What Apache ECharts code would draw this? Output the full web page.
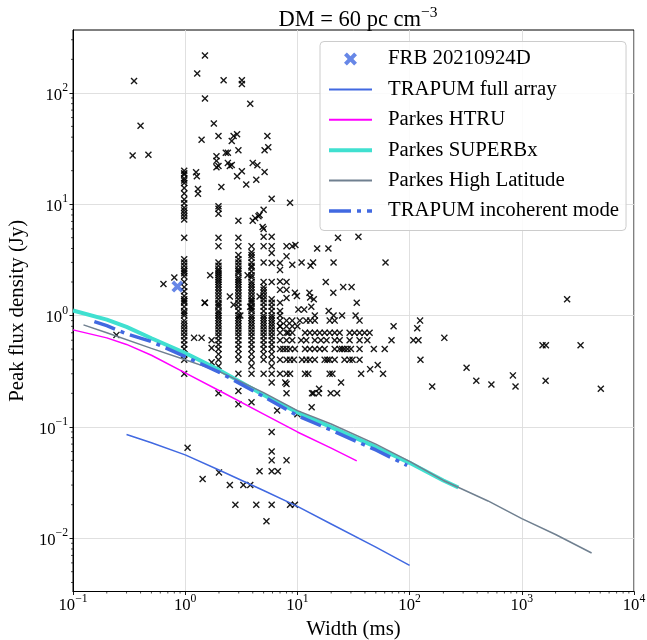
<!DOCTYPE html>
<html><head><meta charset="utf-8">
<script src="https://cdn.jsdelivr.net/npm/echarts@6/dist/echarts.min.js"></script>
<style>html,body{margin:0;padding:0;background:#fff}#c{width:647px;height:640px}</style>
</head><body><div id="c"></div>
<script>
// ---------------- data ----------------
const frbWidth = [0.853];
const frbFlux = [1.82];

const trapumFullW = [0.3, 0.5, 1, 2, 5, 10, 20, 50, 100];
const trapumFullS = [0.0855, 0.072, 0.056, 0.041, 0.0268, 0.0193, 0.0134, 0.0083, 0.0057];

const htruW = [0.1, 0.2, 0.3, 0.5, 1, 2, 5, 10, 20, 33.8];
const htruS = [0.743, 0.63, 0.55, 0.44, 0.305, 0.212, 0.13, 0.09, 0.0645, 0.0495];

const superbW = [0.1, 0.2, 0.3, 0.5, 1, 2, 5, 10, 20, 50, 100, 200, 272];
const superbS = [1.11, 0.92, 0.79, 0.625, 0.46, 0.325, 0.193, 0.135, 0.0995, 0.066, 0.0475, 0.033, 0.0285];

const highLatW = [0.124, 0.2, 0.5, 1, 2, 5, 10, 20, 50, 100, 200, 500, 1000, 2000, 4190];
const highLatS = [0.824, 0.70, 0.507, 0.40, 0.315, 0.203, 0.14, 0.106, 0.070, 0.049, 0.033, 0.0216, 0.015, 0.0108, 0.00736];

const incohW = [0.155, 0.2, 0.3, 0.5, 1, 2, 5, 10, 20, 50, 95];
const incohS = [0.883, 0.81, 0.684, 0.583, 0.428, 0.31, 0.187, 0.126, 0.0935, 0.062, 0.045];

// population: columns of bursts sharing one width
const colWidths = [0.98, 1.98, 2.98, 3.9, 5.0, 5.9, 7.0, 8.0];
const colFluxes = [
  [20, 19, 18.5, 17, 16.3, 15.5, 14, 12.5, 11, 10.2, 9.3, 8.8, 8.3, 7.8, 7.3, 5.0, 3.2, 3.0, 2.8, 2.6, 2.5, 2.4, 2.25, 2.0, 1.8, 1.65, 1.5, 1.4, 1.35, 1.3, 1.2, 1.1, 1.05, 1.0, 0.9, 0.85, 0.8, 0.75, 0.7, 0.65, 0.6, 0.55, 0.5, 0.45, 0.4, 0.3],
  [41, 22, 9.6, 9.1, 8.2, 5.0, 4.2, 3.0, 2.8, 2.6, 2.5, 2.4, 2.3, 2.2, 2.1, 2.0, 1.9, 1.8, 1.7, 1.6, 1.5, 1.4, 1.3, 1.25, 1.2, 1.1, 1.05, 1.0, 0.95, 0.9, 0.85, 0.8, 0.75, 0.7, 0.65, 0.6, 0.55, 0.5, 0.45, 0.4, 0.35, 0.2],
  [30.5, 7.1, 5.0, 4.2, 3.5, 3.2, 3.0, 2.8, 2.6, 2.5, 2.4, 2.2, 2.1, 2.0, 1.9, 1.8, 1.7, 1.6, 1.5, 1.4, 1.3, 1.2, 1.1, 1.0, 0.95, 0.9, 0.85, 0.8, 0.75, 0.7, 0.65, 0.6, 0.55, 0.5, 0.45, 0.4, 0.3, 0.21, 0.16],
  [4.2, 3.7, 3.5, 3.3, 3.0, 2.8, 2.7, 2.5, 2.3, 2.2, 2.0, 1.9, 1.8, 1.7, 1.6, 1.5, 1.4, 1.35, 1.3, 1.2, 1.15, 1.1, 1.0, 0.95, 0.9, 0.85, 0.8, 0.75, 0.7, 0.65, 0.6, 0.55, 0.5, 0.45, 0.4, 0.35, 0.3, 0.166],
  [8.9, 6.0, 5.1, 4.2, 3.0, 2.0, 1.8, 1.7, 1.6, 1.5, 1.4, 1.3, 1.2, 1.1, 1.0, 0.95, 0.9, 0.85, 0.8, 0.75, 0.7, 0.65, 0.6, 0.55, 0.5, 0.45, 0.4, 0.3],
  [11.2, 5.1, 4.2, 3.65, 2.96, 2.0, 1.4, 1.3, 1.2, 1.1, 1.0, 0.95, 0.9, 0.85, 0.8, 0.75, 0.7, 0.65, 0.6, 0.55, 0.5, 0.45, 0.4, 0.35, 0.3, 0.25, 0.09, 0.06, 0.05, 0.04, 0.02],
  [2.96, 2.57, 2.02, 1.7, 1.3, 1.1, 1.0, 0.9, 0.8, 0.7, 0.6, 0.5, 0.4, 0.3],
  [4.2, 3.4, 2.0, 1.7, 1.44, 0.9, 0.8, 0.7, 0.6, 0.5, 0.4, 0.3, 0.243, 0.2, 0.05]
];
// population: rows of bursts sharing one flux
const rowFluxes = [0.9, 0.7, 0.6, 0.5, 0.4, 0.3, 0.25, 0.2];
const rowWidths = [
  [9.0, 10.5, 12.0, 13.0, 14.3, 19.4, 21.5, 35.8],
  [8.3, 9.0, 11.7, 12.9, 14.3, 15.8, 17.5, 19.4, 21.5, 23.8, 29.2, 32.3, 35.8, 39.7, 44],
  [9.0, 10.8, 12.0, 14.3, 16.2, 18.2, 21.5, 23.8, 29.2, 35.8, 42, 69, 108, 120],
  [7.5, 8.6, 9.5, 11.7, 12.9, 14.3, 15.8, 17.5, 21.5, 23.8, 25.0, 26.3, 28, 30, 35.8, 48, 60],
  [8.6, 9.3, 11.0, 12.0, 12.9, 14.3, 17.5, 18.5, 19.4, 21.5, 26.3, 29.2, 31, 35.8, 125],
  [8.6, 11.7, 12.5, 19.4, 20.5, 37, 58],
  [7.8, 24.5],
  [13.5, 15.5, 19.8, 22.6]
];
// population: remaining bursts
const otherW = [0.35, 0.4, 0.34, 0.47, 1.5, 1.28, 2.2, 3.2, 3.2, 1.5, 3.8, 1.8, 1.4, 2.7, 2.9, 2.6, 2.3, 2.4, 1.9, 1.9, 1.9, 2.4, 2.5, 2.6,
  5.4, 5.5, 5.1, 4.0, 4.4, 5.1, 3.2, 2.9, 4.3, 3.5, 2.1, 1.25, 1.27, 1.3, 1.3, 8.6, 4.5, 4.0, 4.6, 4.2, 4.9,
  0.64, 0.8, 0.244, 1.5, 1.67, 2.5, 2.7, 3.1, 3.6, 4.6, 3.8, 1.2, 1.4, 1.72, 1.72, 1.72, 1.49,
  9.0, 9.6, 9.0, 15, 18.9, 23, 35, 10.9, 13.1, 13.8, 21, 61, 17.9, 20.9, 25.6, 30.4, 33.8, 12.8, 14, 9.9, 9.5, 13,
  10.2, 11.5, 13.3, 14.3, 19, 21, 25, 33, 7, 9, 10,
  2535, 72, 117, 124, 204, 322, 393, 536, 833, 879, 159, 1530, 1640, 3340, 1630, 5060, 44.5, 52,
  6.6, 10, 13.4, 13.9, 15.6, 4.6, 6.7, 1.05, 1.43, 2.0, 2.5, 3.3, 3.8, 2.8, 4.3, 8.6, 9.5, 5.3];
const otherS = [128, 50.6, 27.4, 27.8, 217, 149, 130, 130, 120, 89, 80, 53, 38, 41, 42.5, 37, 29, 29, 27, 24.5, 21.5, 23.5, 22, 22.5,
  41, 32.5, 30.5, 23.5, 22.4, 19.5, 19.8, 17.8, 16.6, 15, 14.3, 19.4, 17.8, 13.7, 12.4, 10.3, 7.8, 7.1, 8.0, 7.5, 6.25,
  1.92, 2.2, 0.67, 1.3, 2.3, 1.48, 1.25, 1.0, 2.3, 1.48, 1.2, 0.63, 0.63, 0.6, 0.51, 0.38, 1.3,
  4.2, 4.3, 2.86, 4.0, 4.0, 5.0, 5.1, 3.0, 2.8, 3.0, 3.0, 3.0, 2.0, 1.6, 1.8, 1.8, 1.3, 1.6, 1.4, 1.5, 1.6, 1.45,
  1.13, 1.13, 1.2, 1.0, 1.1, 1.0, 1.0, 1.0, 0.8, 0.8, 0.8,
  1.4, 0.80, 0.77, 0.9, 0.63, 0.34, 0.26, 0.24, 0.29, 0.23, 0.23, 0.54, 0.54, 0.54, 0.26, 0.22, 0.33, 0.36,
  0.14, 0.13, 0.15, 0.2, 0.22, 0.04, 0.04, 0.065, 0.034, 0.039, 0.03, 0.03, 0.03, 0.02, 0.02, 0.02, 0.02, 0.0142];

// axis ticks
const xMin = 0.1, xMax = 10000;
const yMin = 0.00332, yMax = 367;
const xMajorTicks = [0.1, 1, 10, 100, 1000, 10000];
const yMajorTicks = [0.01, 0.1, 1, 10, 100];
const xMinorTicks = [0.2,0.3,0.4,0.5,0.6,0.7,0.8,0.9, 2,3,4,5,6,7,8,9, 20,30,40,50,60,70,80,90, 200,300,400,500,600,700,800,900, 2000,3000,4000,5000,6000,7000,8000,9000];
const yMinorTicks = [0.004,0.005,0.006,0.007,0.008,0.009, 0.02,0.03,0.04,0.05,0.06,0.07,0.08,0.09, 0.2,0.3,0.4,0.5,0.6,0.7,0.8,0.9, 2,3,4,5,6,7,8,9, 20,30,40,50,60,70,80,90, 200,300];

// ---------------- build ----------------
const FONT = "'Liberation Serif','Times New Roman','DejaVu Serif',serif";
function xPath(d) {
  return 'path://M0 ' + d + ' L' + d + ' 0 L50 ' + (50 - d) + ' L' + (100 - d) + ' 0 L100 ' + d + ' L' + (50 + d) + ' 50 L100 ' + (100 - d) +
    ' L' + (100 - d) + ' 100 L50 ' + (50 + d) + ' L' + d + ' 100 L0 ' + (100 - d) + ' L' + (50 - d) + ' 50 Z';
}
const thinX = xPath(14), boldX = xPath(22);

const pop = [];
colWidths.forEach((w, i) => colFluxes[i].forEach(s => pop.push([w, s])));
rowFluxes.forEach((s, i) => rowWidths[i].forEach(w => pop.push([w, s])));
otherW.forEach((w, i) => pop.push([w, otherS[i]]));

const zip = (a, b) => a.map((v, i) => [v, b[i]]);

function powLabel(v) {
  const e = Math.log10(v), r = Math.round(e);
  if (Math.abs(e - r) > 1e-6) return '';
  return '{b|10}{e|' + (r < 0 ? '\u2212' + (-r) : r) + '}';
}
const labelRich = {
  b: { fontFamily: FONT, fontSize: 16.7, color: '#000', lineHeight: 22, verticalAlign: 'bottom' },
  e: { fontFamily: FONT, fontSize: 11.7, color: '#000', lineHeight: 12, verticalAlign: 'top' }
};

function lineSeries(name, w, s, color, width, type, z) {
  return { type: 'line', name, data: zip(w, s), symbol: 'none', showSymbol: false, smooth: false, z,
    lineStyle: { color, width, type: type || 'solid', cap: 'butt' }, itemStyle: { color }, emphasis: { disabled: true } };
}
const DASHDOT = [22, 6, 4, 6];

const chart = echarts.init(document.getElementById('c'), null, { renderer: 'canvas' });
chart.setOption({
  animation: false,
  backgroundColor: '#fff',
  title: {
    text: '{a|DM = 60 pc cm}{s|\u22123}', left: 353, top: 0, textAlign: 'center',
    textStyle: { fontWeight: 'normal', rich: {
      a: { fontFamily: FONT, fontSize: 22.5, fontWeight: 'normal', color: '#000', lineHeight: 27, verticalAlign: 'bottom' },
      s: { fontFamily: FONT, fontSize: 15.5, fontWeight: 'normal', color: '#000', lineHeight: 15, verticalAlign: 'top' } } }
  },
  grid: { left: 73, right: 13, top: 30, bottom: 48.5, show: true, borderColor: '#000', borderWidth: 1,
    backgroundColor: 'transparent', containLabel: false, outerBoundsMode: 'none' },
  legend: {
    data: [
      { name: 'FRB 20210924D' },
      { name: 'TRAPUM full array', itemStyle: { opacity: 0 } },
      { name: 'Parkes HTRU', itemStyle: { opacity: 0 } },
      { name: 'Parkes SUPERBx', itemStyle: { opacity: 0 }, lineStyle: { width: 4 } },
      { name: 'Parkes High Latitude', itemStyle: { opacity: 0 } },
      { name: 'TRAPUM incoherent mode', itemStyle: { opacity: 0 }, lineStyle: { width: 3.5, type: DASHDOT } }
    ],
    orient: 'vertical', left: 320, top: 41.5, padding: [7, 7, 9, 7], itemWidth: 43, itemHeight: 13, itemGap: 9.4,
    backgroundColor: 'rgba(255,255,255,0.85)', borderColor: '#cccccc', borderWidth: 1, borderRadius: 4,
    textStyle: { fontFamily: FONT, fontSize: 20.8, color: '#000', lineHeight: 20, padding: [0, 0, 0, 11] },
    selectedMode: false
  },
  xAxis: {
    type: 'log', logBase: 10, min: xMin, max: xMax,
    name: 'Width (ms)', nameLocation: 'middle', nameGap: 22,
    nameTextStyle: { fontFamily: FONT, fontSize: 20.8, color: '#000' },
    axisLine: { show: true, lineStyle: { color: '#000', width: 1 } },
    axisTick: { show: true, inside: false, length: 3.5, lineStyle: { color: '#000', width: 0.9 }, customValues: xMajorTicks },
    axisLabel: { margin: 1, formatter: powLabel, rich: labelRich, customValues: xMajorTicks },
    splitLine: { show: true, lineStyle: { color: '#dddddd', width: 0.9 } },
    minorTick: { show: false }
  },
  yAxis: {
    type: 'log', logBase: 10, min: yMin, max: yMax,
    name: 'Peak flux density (Jy)', nameLocation: 'middle', nameGap: 33, nameRotate: 90,
    nameTextStyle: { fontFamily: FONT, fontSize: 20.8, color: '#000' },
    axisLine: { show: true, lineStyle: { color: '#000', width: 1 } },
    axisTick: { show: true, inside: false, length: 3.5, lineStyle: { color: '#000', width: 0.9 }, customValues: yMajorTicks },
    axisLabel: { margin: 5, formatter: powLabel, rich: labelRich, customValues: yMajorTicks },
    splitLine: { show: true, lineStyle: { color: '#dddddd', width: 0.9 } },
    minorTick: { show: false }
  },
  series: [
    { type: 'scatter', name: 'population', data: pop, symbol: thinX, symbolSize: 7, z: 2,
      itemStyle: { color: '#000', opacity: 0.9 }, emphasis: { disabled: true }, silent: true },
    lineSeries('TRAPUM full array', trapumFullW, trapumFullS, '#4169e1', 1.5, 'solid', 3),
    lineSeries('Parkes HTRU', htruW, htruS, '#ff00ff', 1.5, 'solid', 3),
    lineSeries('Parkes SUPERBx', superbW, superbS, '#40e0d0', 4, 'solid', 3),
    lineSeries('Parkes High Latitude', highLatW, highLatS, '#708090', 1.5, 'solid', 4),
    lineSeries('TRAPUM incoherent mode', incohW, incohS, '#4169e1', 3.5, DASHDOT, 5),
    { type: 'scatter', name: 'FRB 20210924D', data: zip(frbWidth, frbFlux), symbol: boldX, symbolSize: 12, z: 6,
      itemStyle: { color: '#4169e1' }, emphasis: { disabled: true } },
    { type: 'custom', name: 'xminor', silent: true, clip: false, z: 7,
      data: xMinorTicks.map(v => [v, yMin]),
      renderItem: (p, api) => { const c = api.coord([api.value(0), api.value(1)]);
        return { type: 'line', shape: { x1: c[0], y1: c[1], x2: c[0], y2: c[1] + 2 }, style: { stroke: '#000', lineWidth: 0.7 } }; } },
    { type: 'custom', name: 'yminor', silent: true, clip: false, z: 7,
      data: yMinorTicks.map(v => [xMin, v]),
      renderItem: (p, api) => { const c = api.coord([api.value(0), api.value(1)]);
        return { type: 'line', shape: { x1: c[0] - 2, y1: c[1], x2: c[0], y2: c[1] }, style: { stroke: '#000', lineWidth: 0.7 } }; } }
  ]
});
</script></body></html>
